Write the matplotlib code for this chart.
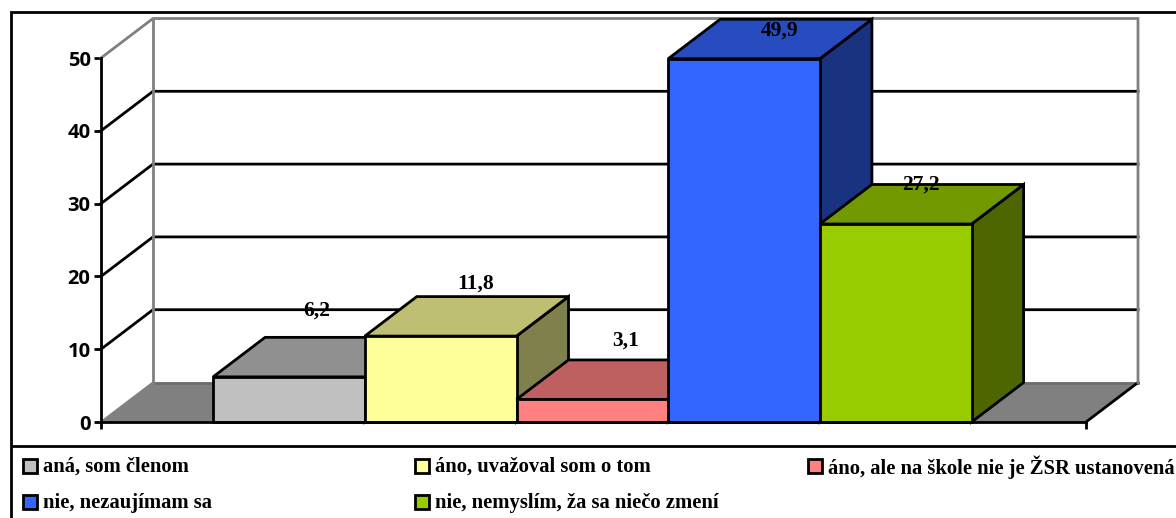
import matplotlib
matplotlib.use("Agg")
import matplotlib.pyplot as plt
from matplotlib.patches import Polygon, Rectangle

categories = ["aná, som členom", "áno, uvažoval som o tom", "áno, ale na škole nie je ŽSR ustanovená",
              "nie, nezaujímam sa", "nie, nemyslím, ža sa niečo zmení"]
values = [6.2, 11.8, 3.1, 49.9, 27.2]
labels = ["6,2", "11,8", "3,1", "49,9", "27,2"]
front = ["#C0C0C0", "#FFFF99", "#FF8080", "#3366FF", "#99CC00"]
top = ["#909090", "#BFBF73", "#BF6060", "#264CBF", "#739900"]
side = ["#808080", "#80804D", "#804040", "#1A3380", "#4D6600"]
yticks = [0, 10, 20, 30, 40, 50]

W, H = 1176, 518
fig = plt.figure(figsize=(W / 100, H / 100), dpi=100, facecolor="white")
L, R, T, B = 101, 1086, 58, 422
ax = fig.add_axes([L / W, 1 - B / H, (R - L) / W, (B - T) / H])
ax.set_xlim(-1.239, 5.254)
ax.set_ylim(0, 50)
ux = (R - L) / 6.493
uy = (B - T) / 50
dx, dy = 52 / ux, 39.5 / uy
x0, x1 = -1.239, 5.254

# floor
ax.add_patch(Polygon([(x0, 0), (x0 + dx, dy), (x1 + dx, dy), (x1, 0)], fc="#808080", ec="none", zorder=1,
                     clip_on=False))
# walls
ax.plot([x0, x0 + dx], [0, dy], color="#808080", lw=1.5, zorder=1.5)
ax.plot([x0 + dx, x1 + dx], [dy, dy], color="#6e6e6e", lw=2, zorder=1.5, clip_on=False)
ax.plot([x1, x1 + dx], [0, dy], color="black", lw=2, zorder=1.5, clip_on=False)
for t in yticks[1:-1]:
    ax.plot([x0, x0 + dx, x1 + dx], [t, t + dy, t + dy], color="black", lw=2, zorder=2, clip_on=False)
ax.plot([x0, x0 + dx, x1 + dx, x1 + dx], [50, 50 + dy, 50 + dy, dy], color="#808080", lw=2, zorder=2,
        clip_on=False, solid_joinstyle="miter")
ax.plot([x0 + dx, x0 + dx], [dy, 50 + dy], color="#808080", lw=2, zorder=2, clip_on=False)

# bars
for i, v in enumerate(values):
    a, b = i - 0.5, i + 0.5
    z = 3 + i * 0.1
    ax.add_patch(Polygon([(b, 0), (b + dx, dy), (b + dx, v + dy), (b, v)], fc=side[i], ec="black", lw=2,
                         zorder=z, clip_on=False, joinstyle="miter"))
    ax.add_patch(Polygon([(a, v), (a + dx, v + dy), (b + dx, v + dy), (b, v)], fc=top[i], ec="black", lw=2,
                         zorder=z, clip_on=False, joinstyle="miter"))
    ax.add_patch(Rectangle((a, 0), 1, v, fc=front[i], ec="black", lw=2, zorder=z + 0.01, clip_on=False,
                           joinstyle="miter"))

label_off = [(28, 66), (35, 53), (33.5, 59), (35, 28), (25, 39)]
for i, lab in enumerate(labels):
    ax.annotate(lab, (i, values[i]), xytext=(label_off[i][0] * 0.72, label_off[i][1] * 0.72),
                textcoords="offset points", ha="center", va="center", family="Liberation Serif",
                weight="bold", fontsize=15.5, color="black", zorder=6, annotation_clip=False)

# axes
for s in ["top", "right"]:
    ax.spines[s].set_visible(False)
for s in ["left", "bottom"]:
    ax.spines[s].set_linewidth(2)
    ax.spines[s].set_zorder(5)
ax.set_yticks(yticks)
ax.set_xticks([x0, x1])
ax.set_xticklabels([])
ax.tick_params(axis="both", length=5, width=2, color="black", pad=2.5)
ax.set_yticklabels([str(t) for t in yticks], family="Open Sans", weight="bold", fontsize=14.5)
ax.patch.set_alpha(0)

# frame and legend in figure pixels
ov = fig.add_axes([0, 0, 1, 1], zorder=-1)
ov.set_xlim(0, W)
ov.set_ylim(H, 0)
ov.axis("off")
ov.plot([11, 11, W], [H, 12, 12], color="black", lw=2, solid_joinstyle="miter")
ov.plot([12, W], [446, 446], color="black", lw=2)

ov2 = fig.add_axes([0, 0, 1, 1], zorder=10)
ov2.set_xlim(0, W)
ov2.set_ylim(H, 0)
ov2.axis("off")
pos = [(23, 466), (415, 466), (808, 466), (23, 502), (415, 502)]
for i, (px, py) in enumerate(pos):
    ov2.add_patch(Rectangle((px, py - 7), 14, 14, fc=front[i], ec="black", lw=2))
    ov2.text(px + 20, py + 1, categories[i], family="Liberation Serif", weight="bold", fontsize=14.9,
             va="center", ha="left", color="black", clip_on=True)
fig.savefig("out.png", dpi=100)
